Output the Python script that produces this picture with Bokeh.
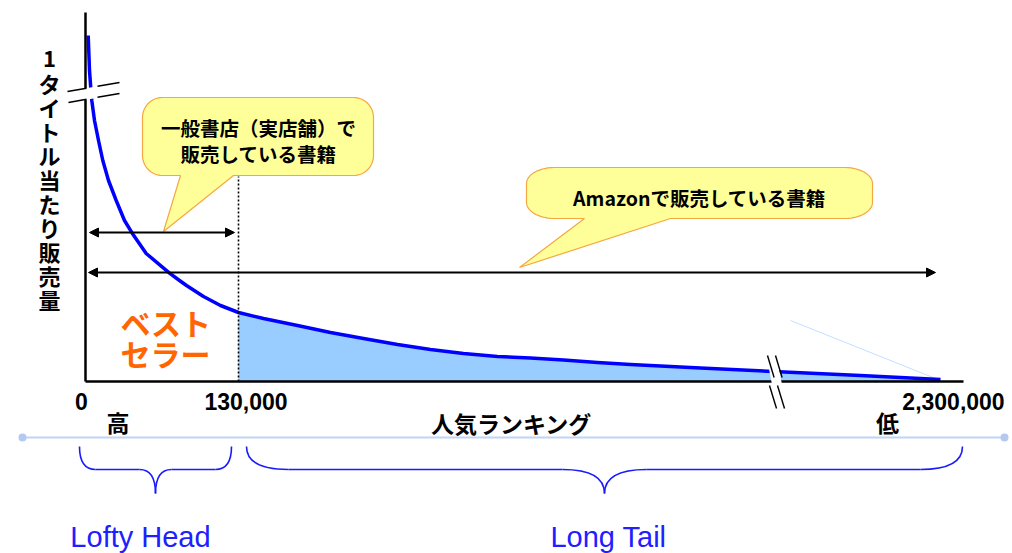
import numpy as np
from bokeh.plotting import figure
from bokeh.models import Range1d, Arrow, NormalHead
from bokeh.core.properties import value
from bokeh.embed import file_html
from bokeh.resources import INLINE

# ---------------- data (schematic units: x = position along ranking axis, y = sales per title) ----
rank_pos = [2.7, 4.0, 5.3, 6.3, 9.0, 13.0, 17.3, 23.0, 30.7, 39.0, 46.7, 60.7,
            84.0, 94.0, 101.0, 118.0, 135.0, 153.0, 178.0, 212.0, 245.0, 278.0, 312.0,
            345.0, 378.0, 412.0, 445.0, 478.0, 512.0, 545.0, 615.0, 688.0, 775.0, 855.0]
sales = [346, 311, 293, 281, 261, 241, 221, 201, 181, 161, 148.3, 128,
         108.3, 101, 96, 85, 76, 69, 63, 56, 49, 43, 37,
         32, 28, 25, 23.5, 21.5, 19, 17, 13.5, 10, 6, 2]
tick_pos = [0, 153, 855]
tick_labels = ["0", "130,000", "2,300,000"]
head_limit = 153          # rank 130,000 on the schematic axis
axis_end = 878

y_title = "1タイトル当たり販売量"
x_title = "人気ランキング"
bubble1_lines = ["一般書店（実店舗）で", "販売している書籍"]
bubble2_text = "Amazonで販売している書籍"
bestseller_lines = ["ベスト", "セラー"]
group_labels = ["Lofty Head", "Long Tail"]

# ---------------- figure --------------------------------------------------------------------------
W, H = 1012, 553
p = figure(width=W, height=H, x_range=Range1d(-85, W - 85), y_range=Range1d(381 - H, 381),
           output_backend="svg", toolbar_location=None, min_border=0)
p.axis.visible = False
p.grid.visible = False
p.outline_line_color = None
p.background_fill_color = "white"
p.border_fill_color = "white"

# layout helpers (page pixel -> data units)
def X(sx):
    return sx - 85
def Y(sy):
    return 381 - sy

CJK = value("Noto Sans CJK JP")

# long tail fill
fx = [x for x in rank_pos if x >= head_limit]
fy = [s for x, s in zip(rank_pos, sales) if x >= head_limit]
p.varea(x=fx, y1=[0] * len(fx), y2=fy, fill_color="#99ccff")

# faint leftover line
p.line([X(790), X(940)], [Y(320), Y(380)], line_color="#c4e0ff", line_width=1)

# curve
p.line(rank_pos, sales, line_color="#0000ff", line_width=3.5, line_join="round")

# axes
p.segment(x0=[0, 0], y0=[0, 0], x1=[0, axis_end], y1=[Y(12), 0], line_color="black", line_width=2.5)

# dotted boundary
p.segment(x0=[head_limit], y0=[0], x1=[head_limit], y1=[Y(176)], line_color="black",
          line_width=1.6, line_dash="2 2")

# y-axis break
p.patch([X(66), X(120), X(120), X(66)], [Y(91), Y(82), Y(93.5), Y(102.5)],
        fill_color="white", line_color=None)
p.segment(x0=[X(67), X(97), X(68), X(97)], y0=[Y(91), Y(85.7), Y(102), Y(96.8)],
          x1=[X(86), X(119), X(86), X(119)], y1=[Y(87.7), Y(82), Y(98.8), Y(93)],
          line_color="black", line_width=1.6)

# x-axis break
p.patch([X(766), X(776), X(786), X(776)], [Y(355), Y(355), Y(408), Y(408)],
        fill_color="white", line_color=None)
p.segment(x0=[X(767), X(775), X(769), X(777)], y0=[Y(355), Y(355), Y(385), Y(385)],
          x1=[X(773.6), X(781.6), X(776), X(784)], y1=[Y(377), Y(377), Y(408), Y(408)],
          line_color="black", line_width=1.4)

# arrows
for x0, x1, yy in [(89, 234, 232), (88, 935, 272)]:
    p.add_layout(Arrow(start=NormalHead(size=9, fill_color="black", line_color="black"),
                       end=NormalHead(size=9, fill_color="black", line_color="black"),
                       x_start=X(x0), y_start=Y(yy), x_end=X(x1), y_end=Y(yy),
                       line_color="black", line_width=2))

# callout bubbles
def bubble(x0, y0, x1, y1, rx, ry, t0, t1, tx, ty):
    pts = []
    def arc(cx, cy, a0, a1):
        for a in np.linspace(a0, a1, 14):
            pts.append((cx + rx * np.cos(a), cy + ry * np.sin(a)))
    arc(x0 + rx, y0 + ry, np.pi, 1.5 * np.pi)
    arc(x1 - rx, y0 + ry, 1.5 * np.pi, 2 * np.pi)
    arc(x1 - rx, y1 - ry, 0, 0.5 * np.pi)
    pts += [(t1, y1), (tx, ty), (t0, y1)]
    arc(x0 + rx, y1 - ry, 0.5 * np.pi, np.pi)
    return [X(a) for a, b in pts], [Y(b) for a, b in pts]

bx, by = bubble(142, 97, 373, 175, 20, 20, 180, 233, 163, 231)
p.patch(bx, by, fill_color="#ffff99", line_color="#f5a742", line_width=1.2)
bx, by = bubble(526, 167, 872, 218, 28, 16, 584, 670, 519, 267)
p.patch(bx, by, fill_color="#ffff99", line_color="#f5a742", line_width=1.2)

p.text(x=[X(258), X(258)], y=[Y(127), Y(153)], text=bubble1_lines, text_font=CJK,
       text_font_style="bold", text_font_size="19.5px", text_align="center",
       text_baseline="middle", text_color="black")
p.text(x=[X(699)], y=[Y(197)], text=[bubble2_text], text_font=CJK, text_font_style="bold",
       text_font_size="19.5px", text_align="center", text_baseline="middle", text_color="black")

# best seller label
p.text(x=[X(165), X(165)], y=[Y(321), Y(352)], text=bestseller_lines, text_font=CJK,
       text_font_style="bold", text_font_size="30px", text_align="center",
       text_baseline="middle", text_color="#ff6600")

# y title (vertical, one character per line)
chars = list(y_title)
p.text(x=[X(49)] * len(chars), y=[Y(58 + 24 * i) for i in range(len(chars))], text=chars,
       text_font=CJK, text_font_style="bold", text_font_size="22px", text_align="center",
       text_baseline="middle", text_color="black")

# tick labels
tick_label_x = [t + off for t, off in zip(tick_pos, [-4, 7.5, 13])]
p.text(x=tick_label_x, y=[Y(401)] * 3, text=tick_labels, text_font=value("Liberation Sans"),
       text_font_style="bold", text_font_size="23px", text_align="center", text_baseline="middle",
       text_color="black")

# x title and high / low
p.text(x=[X(117.5), X(511), X(887)], y=[Y(421), Y(422), Y(421)], text=["高", x_title, "低"],
       text_font=CJK, text_font_style="bold", text_font_size="23px", text_align="center",
       text_baseline="middle", text_color="black")

# light separator line
p.line([X(22), X(1004)], [Y(437), Y(437)], line_color="#c2d4f4", line_width=2)
p.scatter([X(22), X(1004)], [Y(437), Y(437)], size=8, fill_color="#b4c8f0", line_color=None)

# braces
def brace(x0, x1, xc, top, mid, tip, r_end, r_mid):
    q = dict(x0=[], y0=[], x1=[], y1=[], cx=[], cy=[])
    def add(a, b, c, d, e, f):
        q["x0"].append(X(a)); q["y0"].append(Y(b)); q["x1"].append(X(c)); q["y1"].append(Y(d))
        q["cx"].append(X(e)); q["cy"].append(Y(f))
    add(x0, top, x0 + r_end, mid, x0, mid)
    add(x1, top, x1 - r_end, mid, x1, mid)
    add(xc - r_mid, mid, xc, tip, xc, mid)
    add(xc + r_mid, mid, xc, tip, xc, mid)
    p.quadratic(**q, line_color="#1a1aff", line_width=1.6)
    p.segment(x0=[X(x0 + r_end), X(xc + r_mid)], y0=[Y(mid)] * 2,
              x1=[X(xc - r_mid), X(x1 - r_end)], y1=[Y(mid)] * 2,
              line_color="#1a1aff", line_width=1.6)

brace(79, 231, 155, 446, 469, 493, 16, 16)
brace(246, 962, 604, 446, 469, 493, 42, 42)

p.text(x=[X(140), X(608)], y=[Y(536), Y(536)], text=group_labels,
       text_font=value("Liberation Sans"), text_font_size="29px", text_align="center",
       text_baseline="middle", text_color="#2020ff")

open("out.html", "w").write(file_html(p, INLINE))
